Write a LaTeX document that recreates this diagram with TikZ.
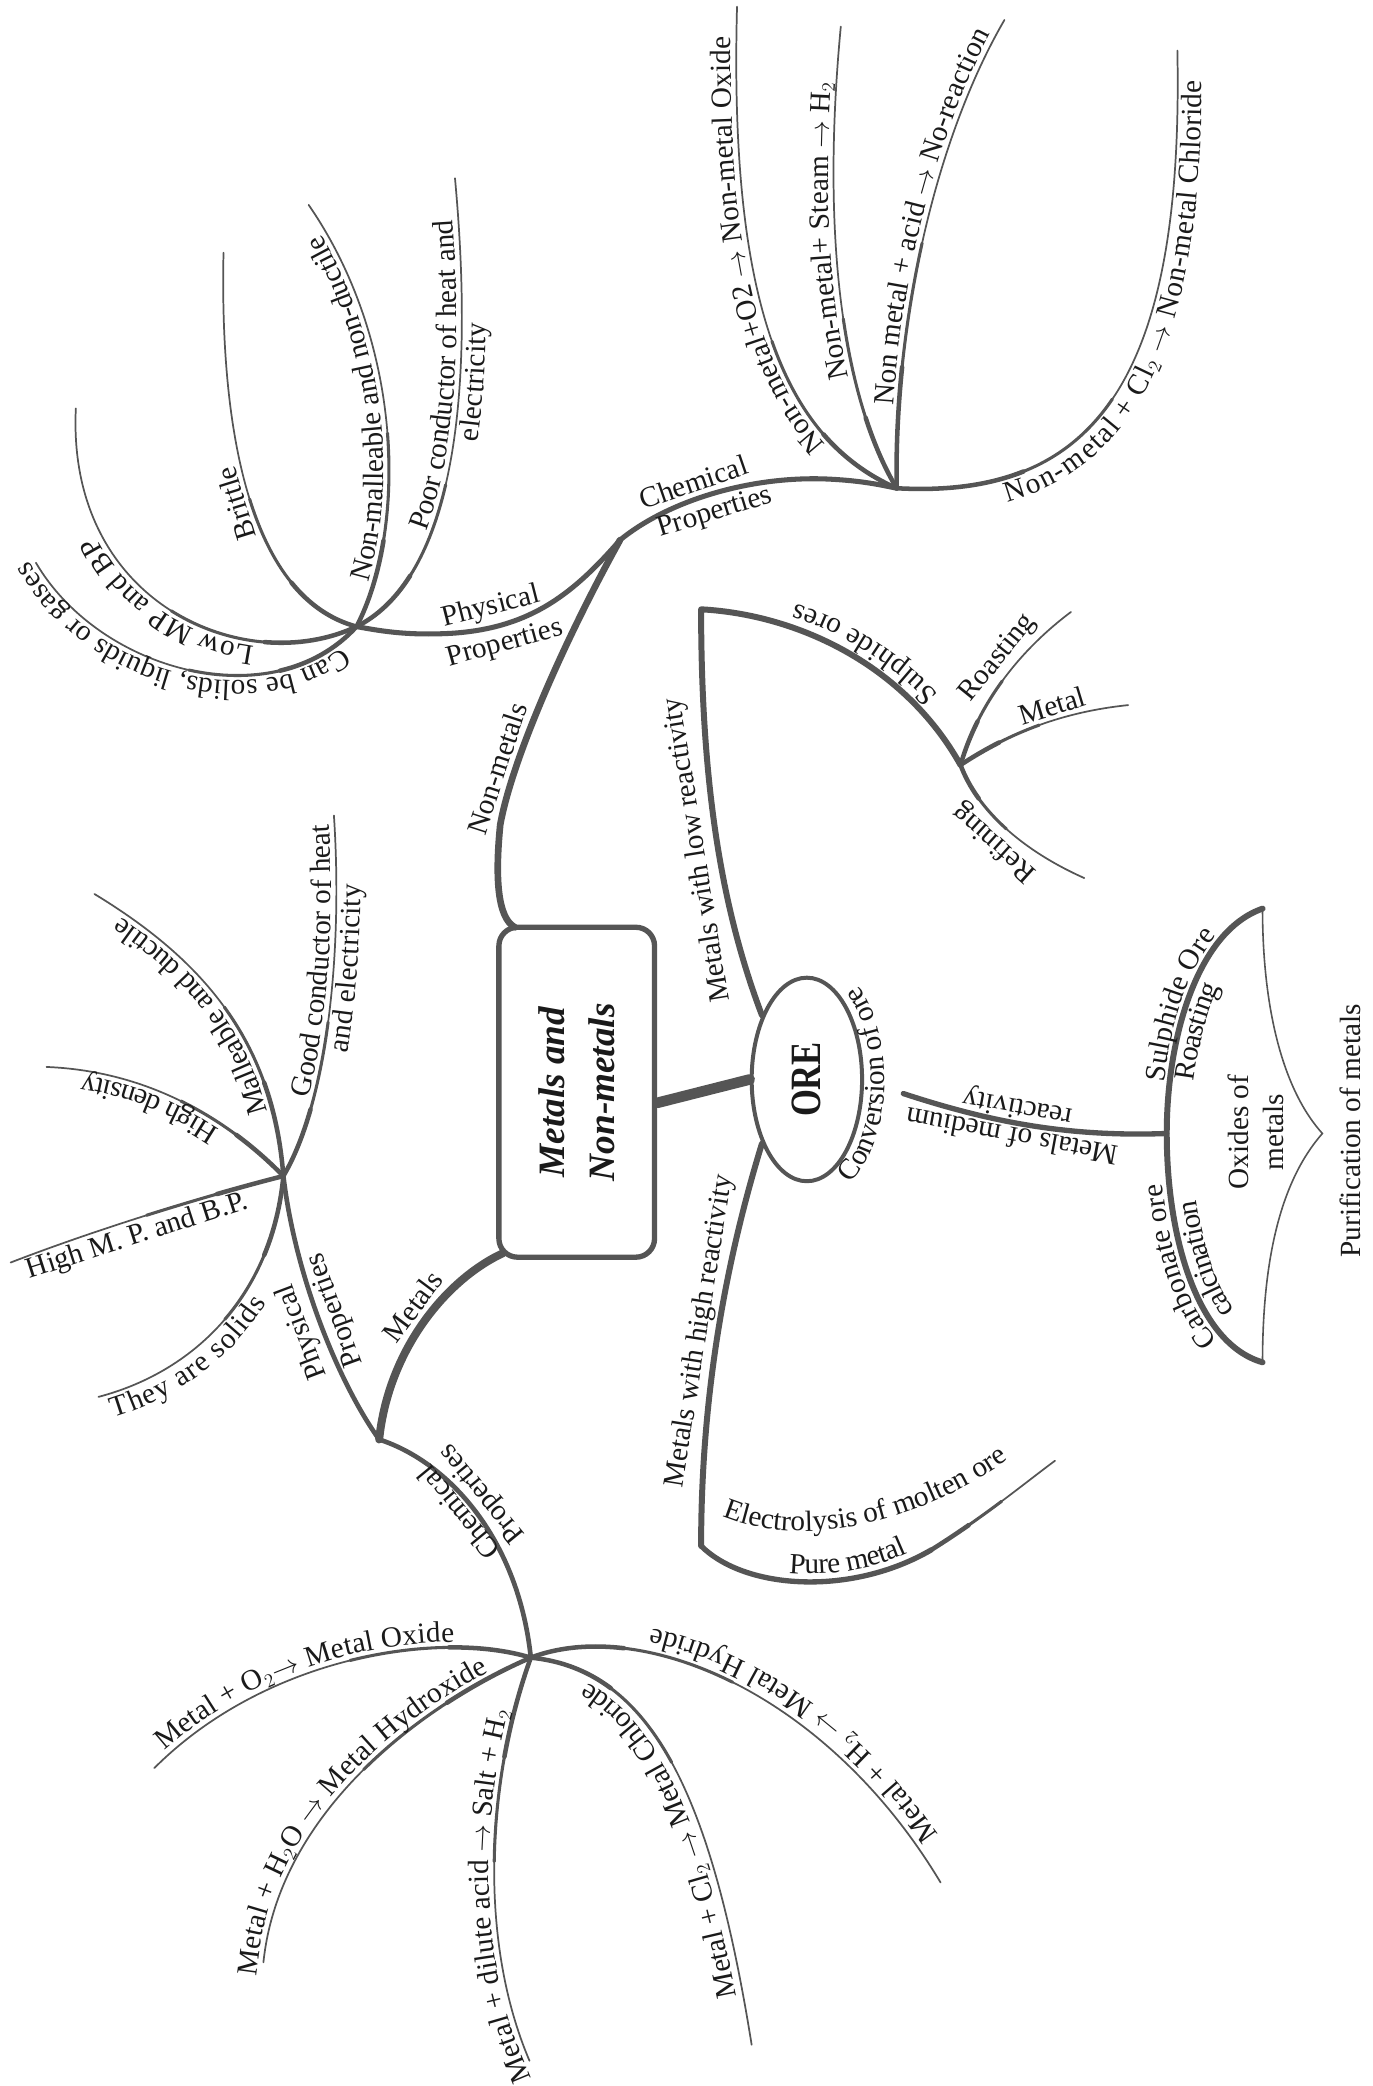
\documentclass[tikz,border=0pt]{standalone}
\usepackage{fontspec}
\setmainfont{Liberation Serif}
\usepackage{graphicx}
\usetikzlibrary{calc,shapes.geometric,decorations.text}
\definecolor{ln}{HTML}{555555}
\definecolor{txt}{HTML}{1A1A1A}
\newcommand\lbl{\fontsize{22}{25}\selectfont}
\newcommand\leafbranch[4]{%
  \coordinate (lq0) at (#1);
  \coordinate (lq1) at (#2);
  \coordinate (lq2) at (#3);
  \coordinate (lq3) at (#4);
  \coordinate (la1) at ($(lq0)!0.5!(lq1)$);
  \coordinate (lm12) at ($(lq1)!0.5!(lq2)$);
  \coordinate (lm23) at ($(lq2)!0.5!(lq3)$);
  \coordinate (la2) at ($(la1)!0.5!(lm12)$);
  \coordinate (lb2) at ($(lm12)!0.5!(lm23)$);
  \coordinate (lmid) at ($(la2)!0.5!(lb2)$);
  \coordinate (lc1) at ($(lq0)!0.5!(la1)$);
  \coordinate (lcm) at ($(la1)!0.5!(la2)$);
  \coordinate (lcn) at ($(la2)!0.5!(lmid)$);
  \coordinate (lc2) at ($(lc1)!0.5!(lcm)$);
  \coordinate (lcq) at ($(lcm)!0.5!(lcn)$);
  \coordinate (lqm) at ($(lc2)!0.5!(lcq)$);
  \draw[leaf, line width=1.3pt] (lq0) .. controls (lq1) and (lq2) .. (lq3);
  \draw[leaf, line width=2.3pt] (lq0) .. controls (la1) and (la2) .. (lmid);
  \draw[leaf, line width=3.4pt] (lq0) .. controls (lc1) and (lc2) .. (lqm);
}
\newcommand\pathtext[4]{%
  \path[decorate, decoration={text along path, text color=txt, raise=#1,
    text align={left indent=#2}, text={|\lbl|#3}}] #4;}
\begin{document}
\begin{tikzpicture}[x=1pt,y=-1pt,
  leaf/.style={draw=ln, line cap=round},
  mainline/.style={draw=ln, line cap=round, line join=round},
  lbl/.style={font=\lbl, text=txt, inner sep=3pt}]
\fill[white] (0,0) rectangle (1032,1568);
\useasboundingbox (0,0) rectangle (1032,1568);

% hubs
\coordinate (J) at (466,406);
\coordinate (NP) at (268,471);
\coordinate (NC) at (674,367);
\coordinate (M) at (285,1082);
\coordinate (MP) at (213,884);
\coordinate (MC) at (399,1246);
\coordinate (S1) at (722,575);
\coordinate (LC) at (527,458);
\coordinate (HC) at (527,1162);
\coordinate (HM) at (700,1165);
\coordinate (MS) at (679,822);
\coordinate (OXT) at (949,683);
\coordinate (OXB) at (949,1024);
\coordinate (OXL) at (877,852);
\coordinate (OXP) at (994,852);

% central box and ORE
\node[draw=ln, line width=4pt, rounded corners=14pt, minimum width=117pt,
  minimum height=248pt, inner sep=0pt] (box) at (433.5,821) {};
\node[rotate=90, font=\fontsize{28}{37}\selectfont\bfseries\itshape, text=txt,
  align=center] (title) at (box.center) {Metals and\\Non-metals};
\node[draw=ln, ellipse, line width=3pt, minimum width=83pt, minimum height=153pt,
  inner sep=0pt] (ore) at (606.5,811.4) {};
\node[rotate=90, font=\fontsize{26}{28}\selectfont\bfseries, text=txt]
  (oretxt) at (ore.center) {\scalebox{1}[1.25]{ORE}};

\draw[mainline, line width=8pt] ($(box.east)+(0,8)$) -- (ore.west);

% Non-metals branch
\draw[mainline, line width=5pt] ($(box.north west)+(14,2)$) .. controls (374,690) and (372,660) .. (376,620)
  .. controls (385,570) and (425,480) .. node[lbl, sloped, above, pos=0.22] (nmlbl) {Non-metals} (J);
\draw[mainline, line width=3.8pt] (NP) .. controls (285,474) and (305,478) .. (340,476)
  .. controls (400,472) and (432,445) ..
  node[lbl, sloped, above, pos=0.2] (np1) {Physical}
  node[lbl, sloped, below, pos=0.22] (np2) {Properties} (J);
\draw[mainline, line width=3.8pt] (J) .. controls (500,378) and (560,358) ..
  node[lbl, sloped, above, pos=0.45] (nc1) {Chemical}
  node[lbl, sloped, below, pos=0.5] (nc2) {Properties} (620,360)
  .. controls (645,361) and (660,364) .. (NC);

% Metals branch
\draw[mainline, line width=6pt] ($(box.south west)+(5,-5)$) .. controls (335,962) and (292,1015) ..
  node[lbl, sloped, above, pos=0.47] (mlbl) {Metals} (M);
\draw[mainline, line width=3.5pt] (M) .. controls (255,1040) and (222,960) ..
  node[lbl, sloped, allow upside down, above, pos=0.5] (mp1) {Physical}
  node[lbl, sloped, allow upside down, below, pos=0.53] (mp2) {Properties} (MP);
\draw[mainline, line width=3.5pt] (M) .. controls (340,1100) and (390,1160) .. (MC);
\path (MC) .. controls (390,1160) and (340,1100) ..
  node[lbl, sloped, allow upside down, above, pos=0.55] (mc1) {Chemical}
  node[lbl, sloped, allow upside down, below, pos=0.55] (mc2) {Properties} (M);

% Non-metal physical properties
\leafbranch{NP}{205,540}{75,505}{27,423}
\pathtext{4pt}{18pt}{Can be solids, liquids or gases}{(NP) .. controls (205,540) and (75,505) .. (27,423) -- (14,400)}
\leafbranch{NP}{185,510}{50,455}{57,307}
\pathtext{4pt}{78pt}{Low MP and BP}{(NP) .. controls (185,510) and (50,455) .. (57,307)}
\leafbranch{NP}{190,450}{165,330}{168,190}
\path (NP) .. controls (190,450) and (165,330) .. node[lbl, sloped, allow upside down, above, pos=0.5] (brittle) {Brittle} (168,190);
\leafbranch{NP}{305,400}{305,260}{232,154}
\pathtext{4pt}{35pt}{Non-malleable and non-ductile}{(NP) .. controls (305,400) and (305,260) .. (232,154) -- (222,139)}
\leafbranch{NP}{330,440}{360,330}{342,134}
\pathtext{4pt}{92pt}{Poor conductor of heat and}{(NP) .. controls (330,440) and (360,330) .. (342,134) -- (340,110)}
\pathtext{-18pt}{165pt}{electricity}{(NP) .. controls (330,440) and (360,330) .. (342,134)}

% Non-metal chemical properties
\leafbranch{NC}{590,330}{548,230}{554,5}
\pathtext{4pt}{62pt}{Non-metal+O2 {$\rightarrow$} Non-metal Oxide}{(NC) .. controls (590,330) and (548,230) .. (554,5) -- (554,-10)}
\leafbranch{NC}{640,310}{615,200}{632,20}
\pathtext{4pt}{90pt}{Non-metal+ Steam {$\rightarrow$} H{$_2$}}{(NC) .. controls (640,310) and (615,200) .. (632,20)}
\leafbranch{NC}{672,250}{700,110}{755,15}
\pathtext{4pt}{62pt}{Non metal + acid {$\rightarrow$} No-reaction}{(NC) .. controls (672,250) and (700,110) .. (755,15) -- (767,-5)}
\leafbranch{NC}{820,375}{890,290}{885,38}
\pathtext{-18pt}{78pt}{Non-metal + Cl{$_2$} {$\rightarrow$} Non-metal Chloride}{(NC) .. controls (820,375) and (890,290) .. (885,38) -- (885,20)}

% Metal physical properties
\leafbranch{MP}{245,830}{258,720}{251,613}
\pathtext{4pt}{62pt}{Good conductor of heat}{(MP) .. controls (245,830) and (258,720) .. (251,613) -- (250,590)}
\pathtext{-18pt}{100pt}{and electricity}{(MP) .. controls (245,830) and (258,720) .. (251,613) -- (250,590)}
\leafbranch{MP}{205,780}{150,720}{71,672}
\pathtext{4pt}{50pt}{Malleable and ductile}{(MP) .. controls (205,780) and (150,720) .. (71,672)}
\leafbranch{MP}{170,840}{110,805}{35,802}
\pathtext{4pt}{60pt}{High density}{(MP) .. controls (170,840) and (110,805) .. (35,802)}
\leafbranch{MP}{150,900}{70,925}{8,949}
\path (8,949) .. controls (70,925) and (150,900) .. node[lbl, sloped, below, pos=0.45] (hmp) {High M. P. and B.P.} (MP);
\leafbranch{MP}{205,970}{150,1030}{74,1050}
\pathtext{-18pt}{6pt}{They are solids}{(74,1050) .. controls (150,1030) and (205,970) .. (MP)}

% Metal chemical properties
\leafbranch{MC}{330,1225}{200,1245}{116,1329}
\pathtext{4pt}{14pt}{Metal + O{$_2$}{$\rightarrow$} Metal Oxide}{(116,1329) .. controls (200,1245) and (330,1225) .. (MC)}
\leafbranch{MC}{320,1280}{210,1360}{198,1475}
\pathtext{4pt}{4pt}{Metal + H{$_2$}O {$\rightarrow$} Metal Hydroxide}{(196,1490) -- (198,1475) .. controls (210,1360) and (320,1280) .. (MC)}
\leafbranch{MC}{365,1340}{360,1460}{398,1549}
\pathtext{4pt}{0pt}{Metal + dilute acid {$\rightarrow$} Salt + H{$_2$}}{(403,1561) -- (398,1549) .. controls (360,1460) and (365,1340) .. (MC)}
\leafbranch{MC}{490,1255}{535,1350}{565,1537}
\pathtext{0pt}{38pt}{Metal + Cl{$_2$} {$\rightarrow$} Metal Chloride}{(560,1538) .. controls (529,1353) and (486,1261) .. (399,1252)}
\leafbranch{MC}{480,1215}{620,1270}{707,1415}
\pathtext{-18pt}{30pt}{Metal + H{$_2$} {$\rightarrow$} Metal Hydride}{(707,1415) .. controls (620,1270) and (480,1215) .. (MC)}

% ORE: low reactivity
\draw[mainline, line width=4.5pt] (ore.125) .. controls (545,690) and (527,600) ..
  node[lbl, sloped, allow upside down, above, pos=0.5] (lowlbl) {Metals with low reactivity} (LC)
  .. controls (600,462) and (680,500) .. (S1);
\pathtext{-18pt}{50pt}{Sulphide ores}{(S1) .. controls (680,500) and (600,462) .. (LC)}
\leafbranch{S1}{735,530}{765,490}{805,460}
\path (S1) .. controls (735,530) and (765,490) .. node[lbl, sloped, above, pos=0.58] (roast1) {Roasting} (805,460);
\leafbranch{S1}{760,550}{800,535}{848,530}
\path (S1) .. controls (760,550) and (800,535) .. node[lbl, sloped, above, pos=0.6] (metal1) {Metal} (848,530);
\leafbranch{S1}{735,610}{770,640}{815,660}
\path (815,660) .. controls (770,640) and (735,610) .. node[lbl, sloped, allow upside down, above, pos=0.5] (refin) {Refining} (S1);

% ORE: medium reactivity
\path[decorate, decoration={text along path, text color=txt, text align=center,
  text={|\lbl|Conversion of ore}}] (626.5,899.4) .. controls (674.2,871.7) and (678.8,766.8) .. (634,728.8);
\draw[mainline, line width=4pt] (MS) .. controls (740,842) and (800,855) .. (OXL);
\path (OXL) .. controls (800,855) and (740,842) ..
  node[lbl, sloped, allow upside down, below, pos=0.55] (medr) {reactivity}
  node[lbl, sloped, allow upside down, above, pos=0.55] (medm) {Metals of medium} (MS);
\draw[mainline, line width=4.5pt] (OXT) .. controls (900,700) and (877,780) .. (OXL)
  .. controls (877,930) and (900,1010) .. (OXB);
\draw[draw=ln, line width=1.2pt] (OXT) .. controls (949,760) and (965,820) .. (OXP)
  .. controls (965,885) and (949,940) .. (OXB);
\pathtext{4pt}{38pt}{Sulphide Ore}{(OXL) .. controls (877,780) and (900,700) .. (OXT)}
\pathtext{-18pt}{42pt}{Roasting}{(OXL) .. controls (877,780) and (900,700) .. (OXT)}
\pathtext{5pt}{36pt}{Carbonate ore}{(OXB) .. controls (900,1010) and (877,930) .. (OXL)}
\pathtext{-19pt}{48pt}{calcination}{(OXB) .. controls (900,1010) and (877,930) .. (OXL)}
\node[lbl, rotate=90, align=center, font=\fontsize{22}{27}\selectfont] (oxtxt) at (944,851) {Oxides of\\metals};
\node[lbl, rotate=90] (purif) at (1015,850) {Purification of metals};

% ORE: high reactivity
\draw[mainline, line width=4.5pt] (ore.235) .. controls (545,950) and (527,1050) .. (HC);
\path (HC) .. controls (527,1050) and (545,950) .. node[lbl, sloped, above, pos=0.5] (highlbl) {Metals with high reactivity} (ore.235);
\draw[mainline, line width=4pt] (HC) .. controls (560,1195) and (640,1200) .. (HM);
\leafbranch{HM}{740,1140}{770,1115}{793,1098}
\pathtext{6pt}{72pt}{Pure metal}{(HC) .. controls (560,1195) and (640,1200) .. (HM) .. controls (740,1140) and (770,1115) .. (793,1098)}
\pathtext{0pt}{0pt}{Electrolysis of molten ore}{(543,1140) .. controls (590,1160) and (680,1158) .. (775,1085) -- (790,1074)}
\end{tikzpicture}
\end{document}
